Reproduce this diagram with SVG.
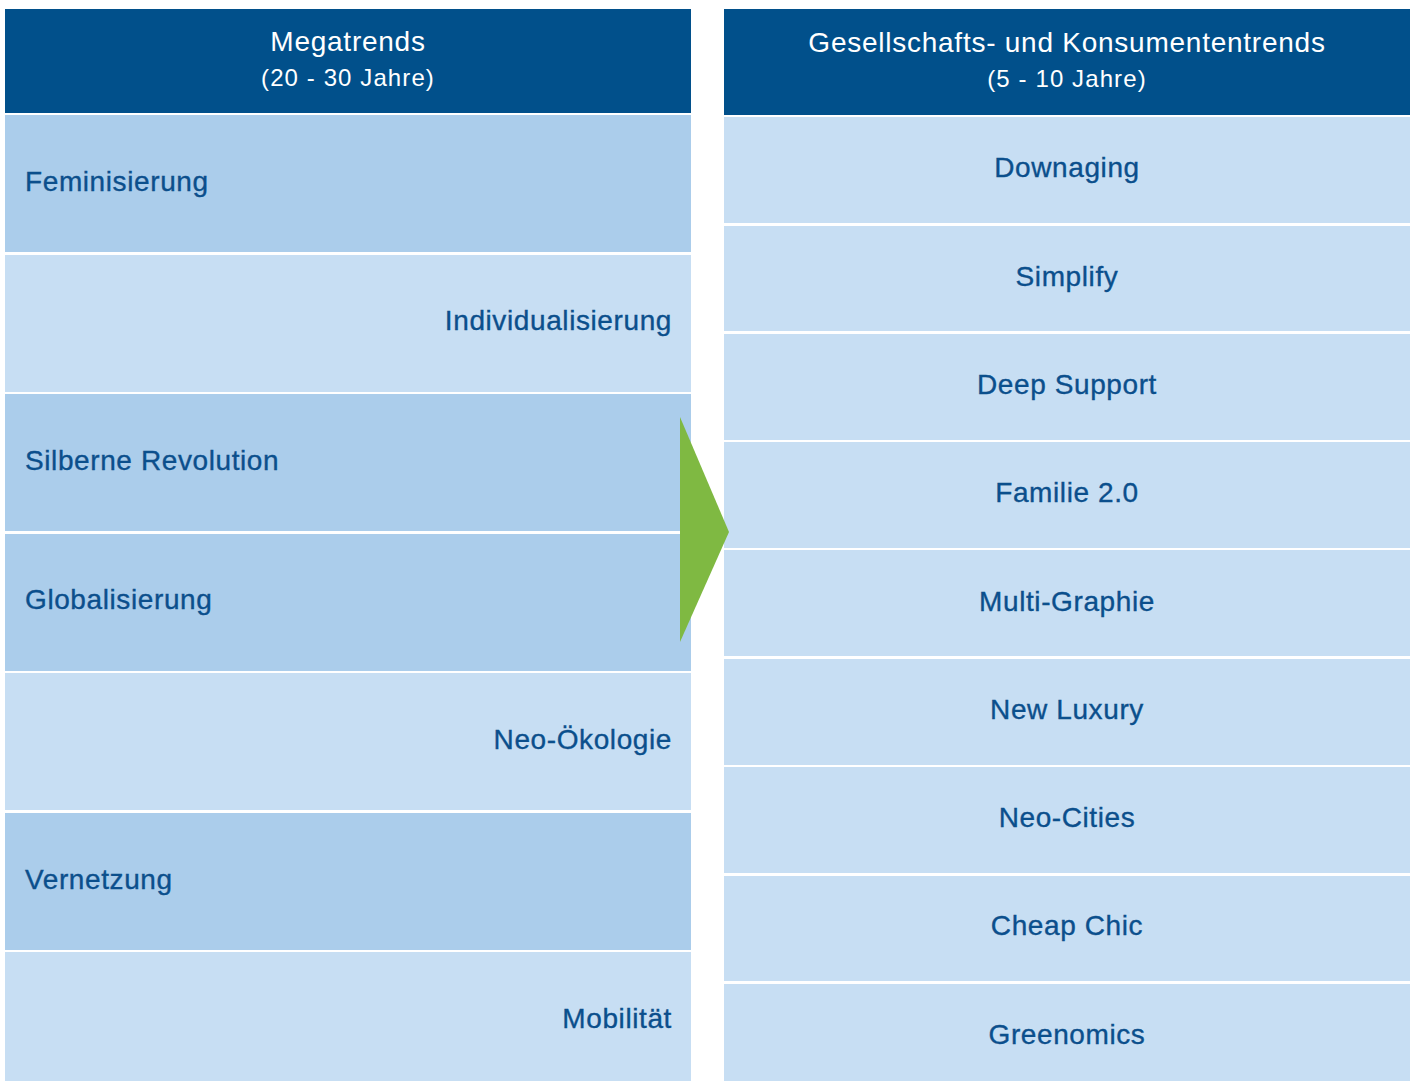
<svg xmlns="http://www.w3.org/2000/svg" width="1415" height="1081" viewBox="0 0 1415 1081">
  <style>
    .head { fill: #01508B; }
    .rowA { fill: #ABCDEB; }
    .rowB { fill: #C7DEF3; }
    .ht { font-family: "Liberation Sans", Arial, sans-serif; fill: #FFFFFF; text-anchor: middle; }
    .h1 { font-size: 28px; letter-spacing: 0.75px; }
    .h2 { font-size: 24px; letter-spacing: 1.1px; }
    .lbl { font-family: "Liberation Sans", Arial, sans-serif; font-size: 28px; letter-spacing: 0.6px; fill: #0B4F8C; stroke: #0B4F8C; stroke-width: 0.35px; }
    .l { text-anchor: start; }
    .r { text-anchor: end; }
    .c { text-anchor: middle; }
  </style>
  <rect width="1415" height="1081" fill="#FFFFFF"/>

  <!-- Left column: megatrends -->
  <g id="megatrends-header">
    <rect class="head" x="5" y="9" width="686" height="104"/>
    <text class="ht h1" x="348" y="51">Megatrends</text>
    <text class="ht h2" x="348" y="86">(20 - 30 Jahre)</text>
  </g>
  <g id="feminisierung">
    <rect class="rowA" x="5" y="115" width="686" height="137"/>
    <text class="lbl l" x="25" y="191">Feminisierung</text>
  </g>
  <g id="individualisierung">
    <rect class="rowB" x="5" y="255" width="686" height="137"/>
    <text class="lbl r" x="672" y="330">Individualisierung</text>
  </g>
  <g id="silberne-revolution">
    <rect class="rowA" x="5" y="394" width="686" height="137"/>
    <text class="lbl l" x="25" y="470">Silberne Revolution</text>
  </g>
  <g id="globalisierung">
    <rect class="rowA" x="5" y="534" width="686" height="137"/>
    <text class="lbl l" x="25" y="609">Globalisierung</text>
  </g>
  <g id="neo-oekologie">
    <rect class="rowB" x="5" y="673" width="686" height="137"/>
    <text class="lbl r" x="672" y="749">Neo-Ökologie</text>
  </g>
  <g id="vernetzung">
    <rect class="rowA" x="5" y="813" width="686" height="137"/>
    <text class="lbl l" x="25" y="889">Vernetzung</text>
  </g>
  <g id="mobilitaet">
    <rect class="rowB" x="5" y="952" width="686" height="129"/>
    <text class="lbl r" x="672" y="1028">Mobilität</text>
  </g>

  <!-- Right column: society and consumer trends -->
  <g id="konsumententrends-header">
    <rect class="head" x="724" y="9" width="686" height="106"/>
    <text class="ht h1" x="1067" y="52">Gesellschafts- und Konsumententrends</text>
    <text class="ht h2" x="1067" y="87">(5 - 10 Jahre)</text>
  </g>
  <g id="downaging">
    <rect class="rowB" x="724" y="117" width="686" height="106"/>
    <text class="lbl c" x="1067" y="177">Downaging</text>
  </g>
  <g id="simplify">
    <rect class="rowB" x="724" y="226" width="686" height="105"/>
    <text class="lbl c" x="1067" y="286">Simplify</text>
  </g>
  <g id="deep-support">
    <rect class="rowB" x="724" y="334" width="686" height="106"/>
    <text class="lbl c" x="1067" y="394">Deep Support</text>
  </g>
  <g id="familie">
    <rect class="rowB" x="724" y="442" width="686" height="106"/>
    <text class="lbl c" x="1067" y="502">Familie 2.0</text>
  </g>
  <g id="multi-graphie">
    <rect class="rowB" x="724" y="550" width="686" height="106"/>
    <text class="lbl c" x="1067" y="611">Multi-Graphie</text>
  </g>
  <g id="new-luxury">
    <rect class="rowB" x="724" y="659" width="686" height="106"/>
    <text class="lbl c" x="1067" y="719">New Luxury</text>
  </g>
  <g id="neo-cities">
    <rect class="rowB" x="724" y="767" width="686" height="106"/>
    <text class="lbl c" x="1067" y="827">Neo-Cities</text>
  </g>
  <g id="cheap-chic">
    <rect class="rowB" x="724" y="876" width="686" height="105"/>
    <text class="lbl c" x="1067" y="935">Cheap Chic</text>
  </g>
  <g id="greenomics">
    <rect class="rowB" x="724" y="984" width="686" height="97"/>
    <text class="lbl c" x="1067" y="1044">Greenomics</text>
  </g>

  <!-- Connector: arrow from megatrends to society trends -->
  <g id="connectors">
    <polygon points="680,417 729,532 680,642" fill="#7FB942"/>
  </g>
</svg>
